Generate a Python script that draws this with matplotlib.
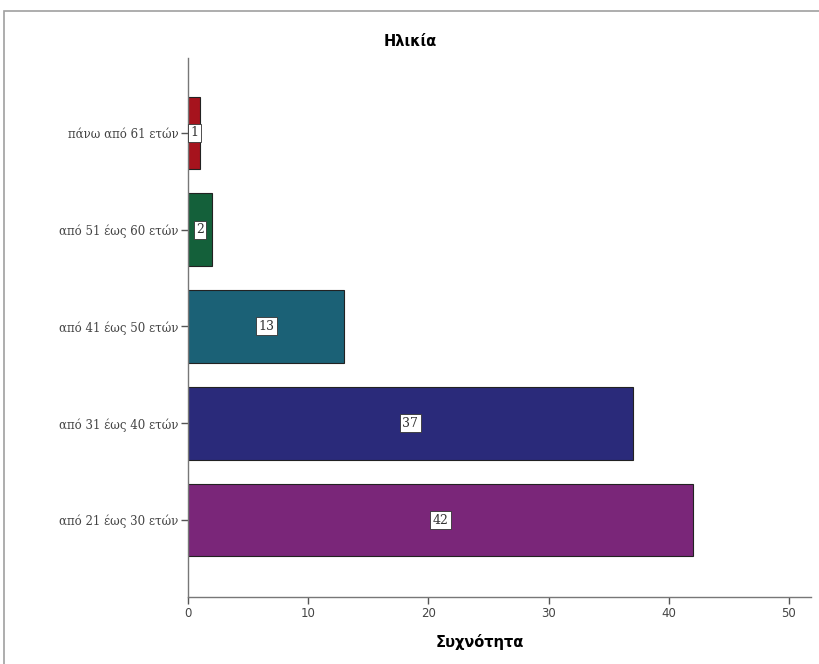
import matplotlib.pyplot as plt
from matplotlib.patches import Rectangle

categories = ['από 21 έως 30 ετών', 'από 31 έως 40 ετών', 'από 41 έως 50 ετών',
              'από 51 έως 60 ετών', 'πάνω από 61 ετών']
counts = [42, 37, 13, 2, 1]
colors = ['#7a2679', '#2a2a7a', '#1b6176', '#14603a', '#a6131d']
x_ticks = [0, 10, 20, 30, 40, 50]

fig = plt.figure(figsize=(8.19, 6.64), dpi=100)
fig.patches.append(Rectangle((4 / 819, -0.01), 1.0, 1 - 11 / 664 + 0.01,
                             transform=fig.transFigure, fill=False,
                             edgecolor='#a0a0a0', linewidth=1.2))

ax = fig.add_axes([188 / 819, 1 - 597 / 664, 622.6 / 819, 539 / 664])

ypos = range(len(categories))
ax.barh(ypos, counts, height=0.75, color=colors, edgecolor='#222222', linewidth=0.8)

for y, v in zip(ypos, counts):
    ax.text(v / 2, y, str(v), ha='center', va='center', fontsize=9,
            family='DejaVu Serif', color='#333333',
            bbox=dict(boxstyle='square,pad=0.2', facecolor='white',
                      edgecolor='#333333', linewidth=0.6))

ax.set_xlim(0, 51.8)
ax.set_ylim(-0.794, 4.773)
ax.set_yticks(list(ypos))
ax.set_yticklabels(categories, fontsize=8.5, family='DejaVu Serif', color='#444444')
ax.set_xticks(x_ticks)
ax.set_xticklabels([str(t) for t in x_ticks], fontsize=8.5, color='#444444')

for s in ['top', 'right']:
    ax.spines[s].set_visible(False)
for s in ['left', 'bottom']:
    ax.spines[s].set_color('#777777')
    ax.spines[s].set_linewidth(1.0)
ax.tick_params(axis='both', direction='out', length=5, width=1, color='#555555', pad=2)

ax.set_xlabel('Συχνότητα', fontsize=10.5, fontweight='bold')
ax.xaxis.set_label_coords(0.469, -0.068)
fig.text(410 / 819, 1 - 42 / 664, 'Ηλικία', ha='center', va='center',
         fontsize=10.5, fontweight='bold')

fig.savefig('out.png', dpi=100)
